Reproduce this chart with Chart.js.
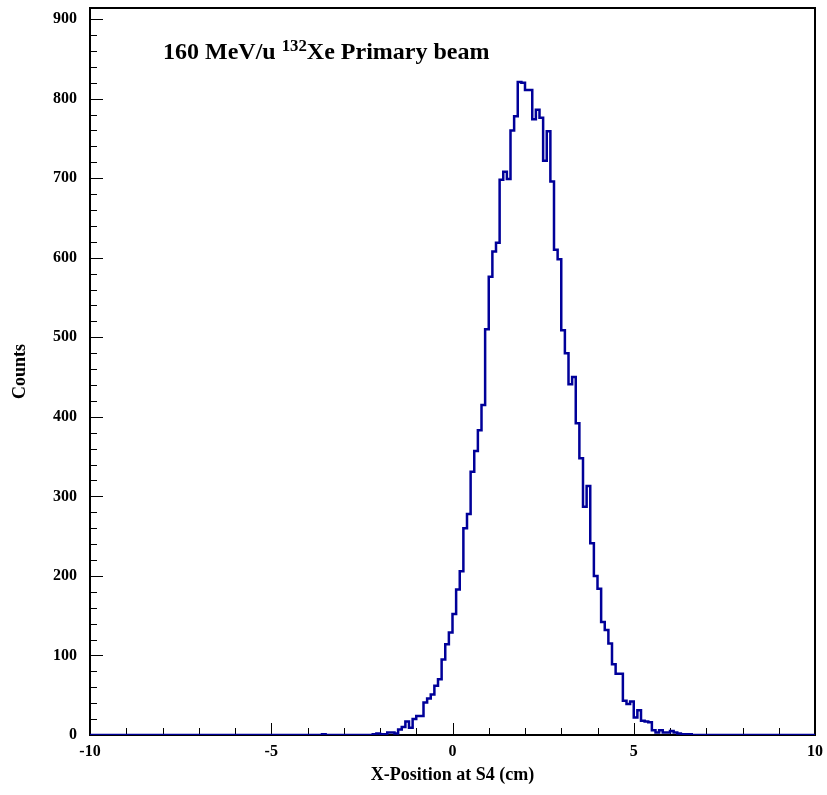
<!DOCTYPE html>
<html>
<head>
<meta charset="utf-8">
<script src="https://cdn.jsdelivr.net/npm/chart.js@4/dist/chart.umd.min.js"></script>
<style>
  body { margin: 0; background: #fff; }
  #wrap { position: relative; width: 827px; height: 795px; }
  #title {
    position: absolute; left: 163px; top: 39px;
    font: bold 24px/24px "Liberation Serif", "Times New Roman", serif;
    color: #000; white-space: nowrap;
  }
  #title sup { font-size: 0.7em; position: relative; top: -0.5em; vertical-align: baseline; }
</style>
</head>
<body>
<div id="wrap">
  <canvas id="chartCanvas" width="827" height="795"></canvas>
  <div id="title">160 MeV/u <sup>132</sup>Xe Primary beam</div>
</div>
<script>
// histogram: 200 bins of 0.1 cm from -10 to 10
const binLow = -10;
const binWidth = 0.1;
const counts = [
    0, 0, 0, 0, 0, 0, 0, 0, 0, 0, 0, 0, 0, 0, 0, 0, 0, 0, 0, 0,
    0, 0, 0, 0, 0, 0, 0, 0, 0, 0, 0, 0, 0, 0, 0, 0, 0, 0, 0, 0,
    0, 0, 0, 0, 0, 0, 0, 0, 0, 0, 0, 0, 0, 0, 0, 0, 0, 0, 0, 0,
    0, 0, 0, 0, 1, 0, 0, 0, 0, 0, 0, 0, 0, 0, 0, 0, 0, 0, 1, 2,
    1, 1, 3, 3, 2, 7, 10, 17, 9, 20, 24, 24, 41, 46, 51, 62, 70, 95, 114, 129,
    152, 183, 206, 260, 278, 331, 357, 383, 415, 510, 576, 608, 619, 698, 708, 699, 760, 778, 821, 820,
    811, 811, 774, 786, 776, 722, 759, 696, 610, 598, 509, 480, 441, 450, 392, 348, 287, 313, 241, 200,
    184, 142, 132, 115, 89, 77, 77, 43, 39, 42, 22, 31, 18, 17, 16, 6, 3, 6, 3, 3,
    5, 3, 2, 1, 1, 1, 0, 0, 0, 0, 0, 0, 0, 0, 0, 0, 0, 0, 0, 0,
    0, 0, 0, 0, 0, 0, 0, 0, 0, 0, 0, 0, 0, 0, 0, 0, 0, 0, 0, 0
];

const xMin = -10, xMax = 10;
const yMin = 0, yMax = 914;
const xLabelTicks = [-10, -5, 0, 5, 10];
const yLabelStep = 100;
const yMinorStep = 20;
const xMinorStep = 1;

const xTitle = "X-Position at S4 (cm)";
const yTitle = "Counts";

const lineColor = "#000099";
const serif = "'Liberation Serif', 'Times New Roman', serif";

// left bin edges + closing point at the right edge
const points = counts.map((c, i) => ({ x: +(binLow + i * binWidth).toFixed(2), y: c }));
points.push({ x: xMax, y: counts[counts.length - 1] });

// ROOT-style frame with inward ticks
const frameTicks = {
    id: "frameTicks",
    beforeDatasetsDraw(chart) {
        const { ctx, chartArea: a, scales: { x, y } } = chart;
        ctx.save();
        ctx.strokeStyle = "#000";
        ctx.lineWidth = 1;
        ctx.beginPath();
        for (let v = yMin; v <= 900; v += yMinorStep) {
            const py = Math.round(y.getPixelForValue(v)) + 0.5;
            const len = v % yLabelStep === 0 ? 13 : 7;
            ctx.moveTo(a.left, py);
            ctx.lineTo(a.left + len, py);
        }
        for (let v = xMin; v <= xMax; v += xMinorStep) {
            const px = Math.round(x.getPixelForValue(v)) + 0.5;
            const len = xLabelTicks.includes(v) ? 12 : 7;
            ctx.moveTo(px, a.bottom);
            ctx.lineTo(px, a.bottom - len);
        }
        ctx.stroke();
        ctx.lineWidth = 2;
        ctx.strokeRect(a.left, a.top, a.right - a.left, a.bottom - a.top);
        ctx.restore();
    }
};

// keep the plot frame where the reference has it (no label overflow padding)
function noLabelPadding(s) {
    s.paddingLeft = 0;
    s.paddingRight = 0;
    s.paddingTop = 0;
    s.paddingBottom = 0;
}

const ctx = document.getElementById("chartCanvas").getContext("2d");

new Chart(ctx, {
    type: "line",
    data: {
        datasets: [{
            data: points,
            stepped: "before",
            borderColor: lineColor,
            borderWidth: 2.5,
            pointRadius: 0,
            fill: false,
        }],
    },
    options: {
        responsive: false,
        animation: false,
        layout: { padding: { top: 8, right: 12, left: 0, bottom: 0 } },
        plugins: {
            legend: { display: false },
            tooltip: { enabled: false },
        },
        scales: {
            x: {
                type: "linear",
                min: xMin,
                max: xMax,
                afterFit: s => { s.height = 60; noLabelPadding(s); },
                afterBuildTicks: s => { s.ticks = xLabelTicks.map(v => ({ value: v })); },
                ticks: {
                    color: "#000",
                    padding: 7,
                    maxRotation: 0,
                    autoSkip: false,
                    font: { family: serif, size: 16, weight: "bold" },
                },
                grid: { display: false, drawTicks: false },
                border: { display: false },
                title: {
                    display: true,
                    text: xTitle,
                    color: "#000",
                    font: { family: serif, size: 18, weight: "bold" },
                    padding: { top: 0, bottom: 9 },
                },
            },
            y: {
                min: yMin,
                max: yMax,
                afterFit: s => { s.width = 90; noLabelPadding(s); },
                ticks: {
                    stepSize: yLabelStep,
                    includeBounds: false,
                    color: "#000",
                    padding: 13,
                    font: { family: serif, size: 16, weight: "bold" },
                },
                grid: { display: false, drawTicks: false },
                border: { display: false },
                title: {
                    display: true,
                    text: yTitle,
                    color: "#000",
                    font: { family: serif, size: 18, weight: "bold" },
                    padding: { top: 10, bottom: 0 },
                },
            },
        },
    },
    plugins: [frameTicks],
});
</script>
</body>
</html>
